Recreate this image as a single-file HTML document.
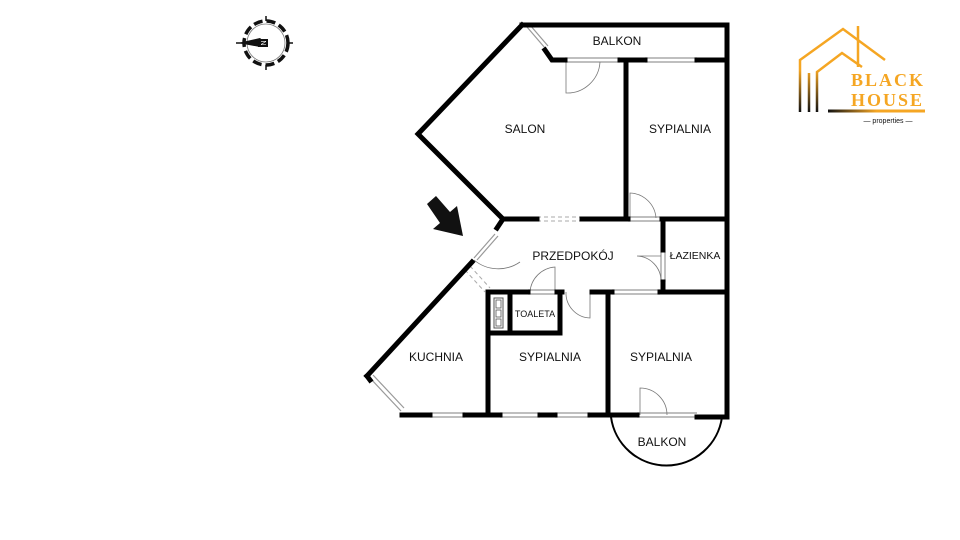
<!DOCTYPE html>
<html><head><meta charset="utf-8"><style>
html,body{margin:0;padding:0;background:#fff;}
svg{display:block}
text{font-family:"Liberation Sans",sans-serif;fill:#111}
</style></head><body>
<svg width="960" height="540" viewBox="0 0 960 540" xmlns="http://www.w3.org/2000/svg">
<defs>
<linearGradient id="g" gradientUnits="userSpaceOnUse" x1="0" y1="70" x2="0" y2="112"><stop offset="0" stop-color="#f5a623"/><stop offset="1" stop-color="#111"/></linearGradient>
<linearGradient id="gh" gradientUnits="userSpaceOnUse" x1="828" y1="0" x2="925" y2="0"><stop offset="0" stop-color="#111"/><stop offset="0.5" stop-color="#f5a623"/><stop offset="1" stop-color="#f5a623"/></linearGradient>
</defs>
<!-- compass -->
<g transform="translate(266,43)">
<circle r="22" fill="none" stroke="#111" stroke-width="3.5" stroke-dasharray="9 4"/>
<circle r="19" fill="none" stroke="#777" stroke-width="0.8"/>
<line x1="0" y1="-27" x2="0" y2="-22" stroke="#111" stroke-width="1.5"/>
<line x1="0" y1="22" x2="0" y2="27" stroke="#111" stroke-width="1.5"/>
<line x1="-30" y1="0" x2="-22" y2="0" stroke="#111" stroke-width="1.5"/>
<line x1="22" y1="0" x2="27" y2="0" stroke="#111" stroke-width="1.5"/>
<polygon points="-28,0 -6,-5 0,0 -6,4" fill="#111"/>
<rect x="-8" y="-4" width="10" height="8" fill="#111"/>
<text x="-3" y="3" font-size="7" fill="#fff" style="fill:#fff" text-anchor="middle" transform="rotate(-90 -3 0)">N</text>
</g>
<!-- entry arrow -->
<polygon points="427,204 436,196 450,212 457,206 463,236 433,229 440,223" fill="#111"/>
<!-- windows -->
<g stroke="#999" stroke-width="1.2" fill="none">
<line x1="565" y1="58" x2="620" y2="58"/><line x1="565" y1="62" x2="620" y2="62"/>
<line x1="645" y1="58" x2="697" y2="58"/><line x1="645" y1="62" x2="697" y2="62"/>
<line x1="527" y1="27" x2="545" y2="48"/><line x1="530" y1="25" x2="548" y2="46"/>
<line x1="430" y1="413" x2="465" y2="413"/><line x1="430" y1="417" x2="465" y2="417"/>
<line x1="500" y1="413" x2="540" y2="413"/><line x1="500" y1="417" x2="540" y2="417"/>
<line x1="555" y1="413" x2="590" y2="413"/><line x1="555" y1="417" x2="590" y2="417"/>
<line x1="637" y1="413" x2="697" y2="413"/><line x1="637" y1="417" x2="697" y2="417"/>
<line x1="370" y1="378" x2="401" y2="411"/><line x1="373" y1="375" x2="404" y2="408"/>
<line x1="612" y1="290" x2="660" y2="290"/><line x1="612" y1="294" x2="660" y2="294"/>
<line x1="628" y1="217" x2="660" y2="217"/><line x1="628" y1="221" x2="660" y2="221"/>
<line x1="528" y1="290" x2="555" y2="290"/><line x1="528" y1="294" x2="555" y2="294"/>
<line x1="661" y1="252" x2="661" y2="282"/><line x1="665" y1="252" x2="665" y2="282"/>
<line x1="474" y1="258" x2="495" y2="234"/><line x1="477" y1="260" x2="498" y2="236"/>
</g>
<g stroke="#aaa" stroke-width="1" fill="none" stroke-dasharray="4 3">
<line x1="537" y1="217" x2="582" y2="217"/><line x1="537" y1="221" x2="582" y2="221"/>
<line x1="465" y1="270" x2="485" y2="292"/><line x1="470" y1="266" x2="490" y2="288"/>
</g>
<!-- doors -->
<g stroke="#777" stroke-width="0.8" fill="none">
<path d="M566,62 V93 A33,33 0 0 0 600,62"/>
<path d="M630,218 V193 A27,27 0 0 1 656,218"/>
<path d="M474,260 A38,38 0 0 0 520,262"/>
<path d="M555,292 V267 A27,27 0 0 0 530,292"/>
<path d="M590,292 V318 A25,25 0 0 1 566,292"/>
<path d="M661,256 H637 A25,25 0 0 1 661,281"/>
<path d="M640,415 V388 A27,27 0 0 1 667,415"/>
</g>
<!-- walls -->
<g stroke="#000" stroke-width="5" fill="none" stroke-linejoin="miter" stroke-linecap="square">
<polyline points="545,50 552,60 565,60"/>
<polyline points="522,25 727,25 727,417 697,417"/>
<line x1="697" y1="60" x2="727" y2="60"/>
<line x1="620" y1="60" x2="645" y2="60"/>
<polyline points="522,25 418,134 503,219 537,219"/>
<line x1="626" y1="60" x2="626" y2="219"/>
<line x1="582" y1="219" x2="628" y2="219"/>
<line x1="662" y1="219" x2="727" y2="219"/>
<line x1="663" y1="219" x2="663" y2="250"/>
<line x1="663" y1="282" x2="663" y2="292"/>
<line x1="660" y1="292" x2="727" y2="292"/>
<line x1="592" y1="292" x2="612" y2="292"/>
<polyline points="503,219 497,228"/>
<polyline points="472,262 367,376"/>
<line x1="488" y1="292" x2="528" y2="292"/>
<line x1="557" y1="292" x2="562" y2="292"/>
<line x1="488" y1="292" x2="488" y2="415"/>
<line x1="608" y1="292" x2="608" y2="415"/>
<polyline points="510,292 510,333"/>
<polyline points="560,292 560,333 488,333"/>
<line x1="402" y1="415" x2="430" y2="415"/>
<line x1="465" y1="415" x2="500" y2="415"/>
<line x1="540" y1="415" x2="555" y2="415"/>
<line x1="590" y1="415" x2="637" y2="415"/>
<line x1="367" y1="376" x2="370" y2="380"/>
</g>
<rect x="494" y="298" width="9" height="30" fill="none" stroke="#555" stroke-width="1"/>
<rect x="496" y="300" width="5" height="8" fill="none" stroke="#555" stroke-width="0.8"/>
<rect x="496" y="310" width="5" height="7" fill="none" stroke="#555" stroke-width="0.8"/>
<rect x="496" y="319" width="5" height="7" fill="none" stroke="#555" stroke-width="0.8"/>
<path d="M611,417 A56,56 0 0 0 722,417" fill="none" stroke="#000" stroke-width="2"/>
<!-- labels -->
<g font-size="12" text-anchor="middle">
<text x="617" y="45">BALKON</text>
<text x="525" y="133">SALON</text>
<text x="680" y="133">SYPIALNIA</text>
<text x="573" y="260">PRZEDPOKÓJ</text>
<text x="695" y="259" font-size="10.5">ŁAZIENKA</text>
<text x="535" y="317" font-size="9">TOALETA</text>
<text x="436" y="361">KUCHNIA</text>
<text x="550" y="361">SYPIALNIA</text>
<text x="661" y="361">SYPIALNIA</text>
<text x="662" y="446">BALKON</text>
</g>
<!-- logo -->
<g fill="none" stroke-width="2.5">
<polyline points="800,112 800,60 843,29 885,60" stroke="url(#g)"/>
<line x1="809" y1="112" x2="809" y2="73" stroke="url(#g)"/>
<polyline points="817,112 817,72 842,53 862,67" stroke="url(#g)"/>
<line x1="858" y1="26" x2="858" y2="67" stroke="#f5a623"/>
<line x1="828" y1="111" x2="925" y2="111" stroke="url(#gh)" stroke-width="3"/>
</g>
<text x="851" y="86" font-size="18" font-weight="bold" letter-spacing="2" style="fill:#f5a623;font-family:'Liberation Serif',serif">BLACK</text>
<text x="851" y="106" font-size="18" font-weight="bold" letter-spacing="2" style="fill:#f5a623;font-family:'Liberation Serif',serif">HOUSE</text>
<text x="888" y="123" font-size="7" text-anchor="middle" fill="#333">—  properties  —</text>
</svg>
</body></html>
